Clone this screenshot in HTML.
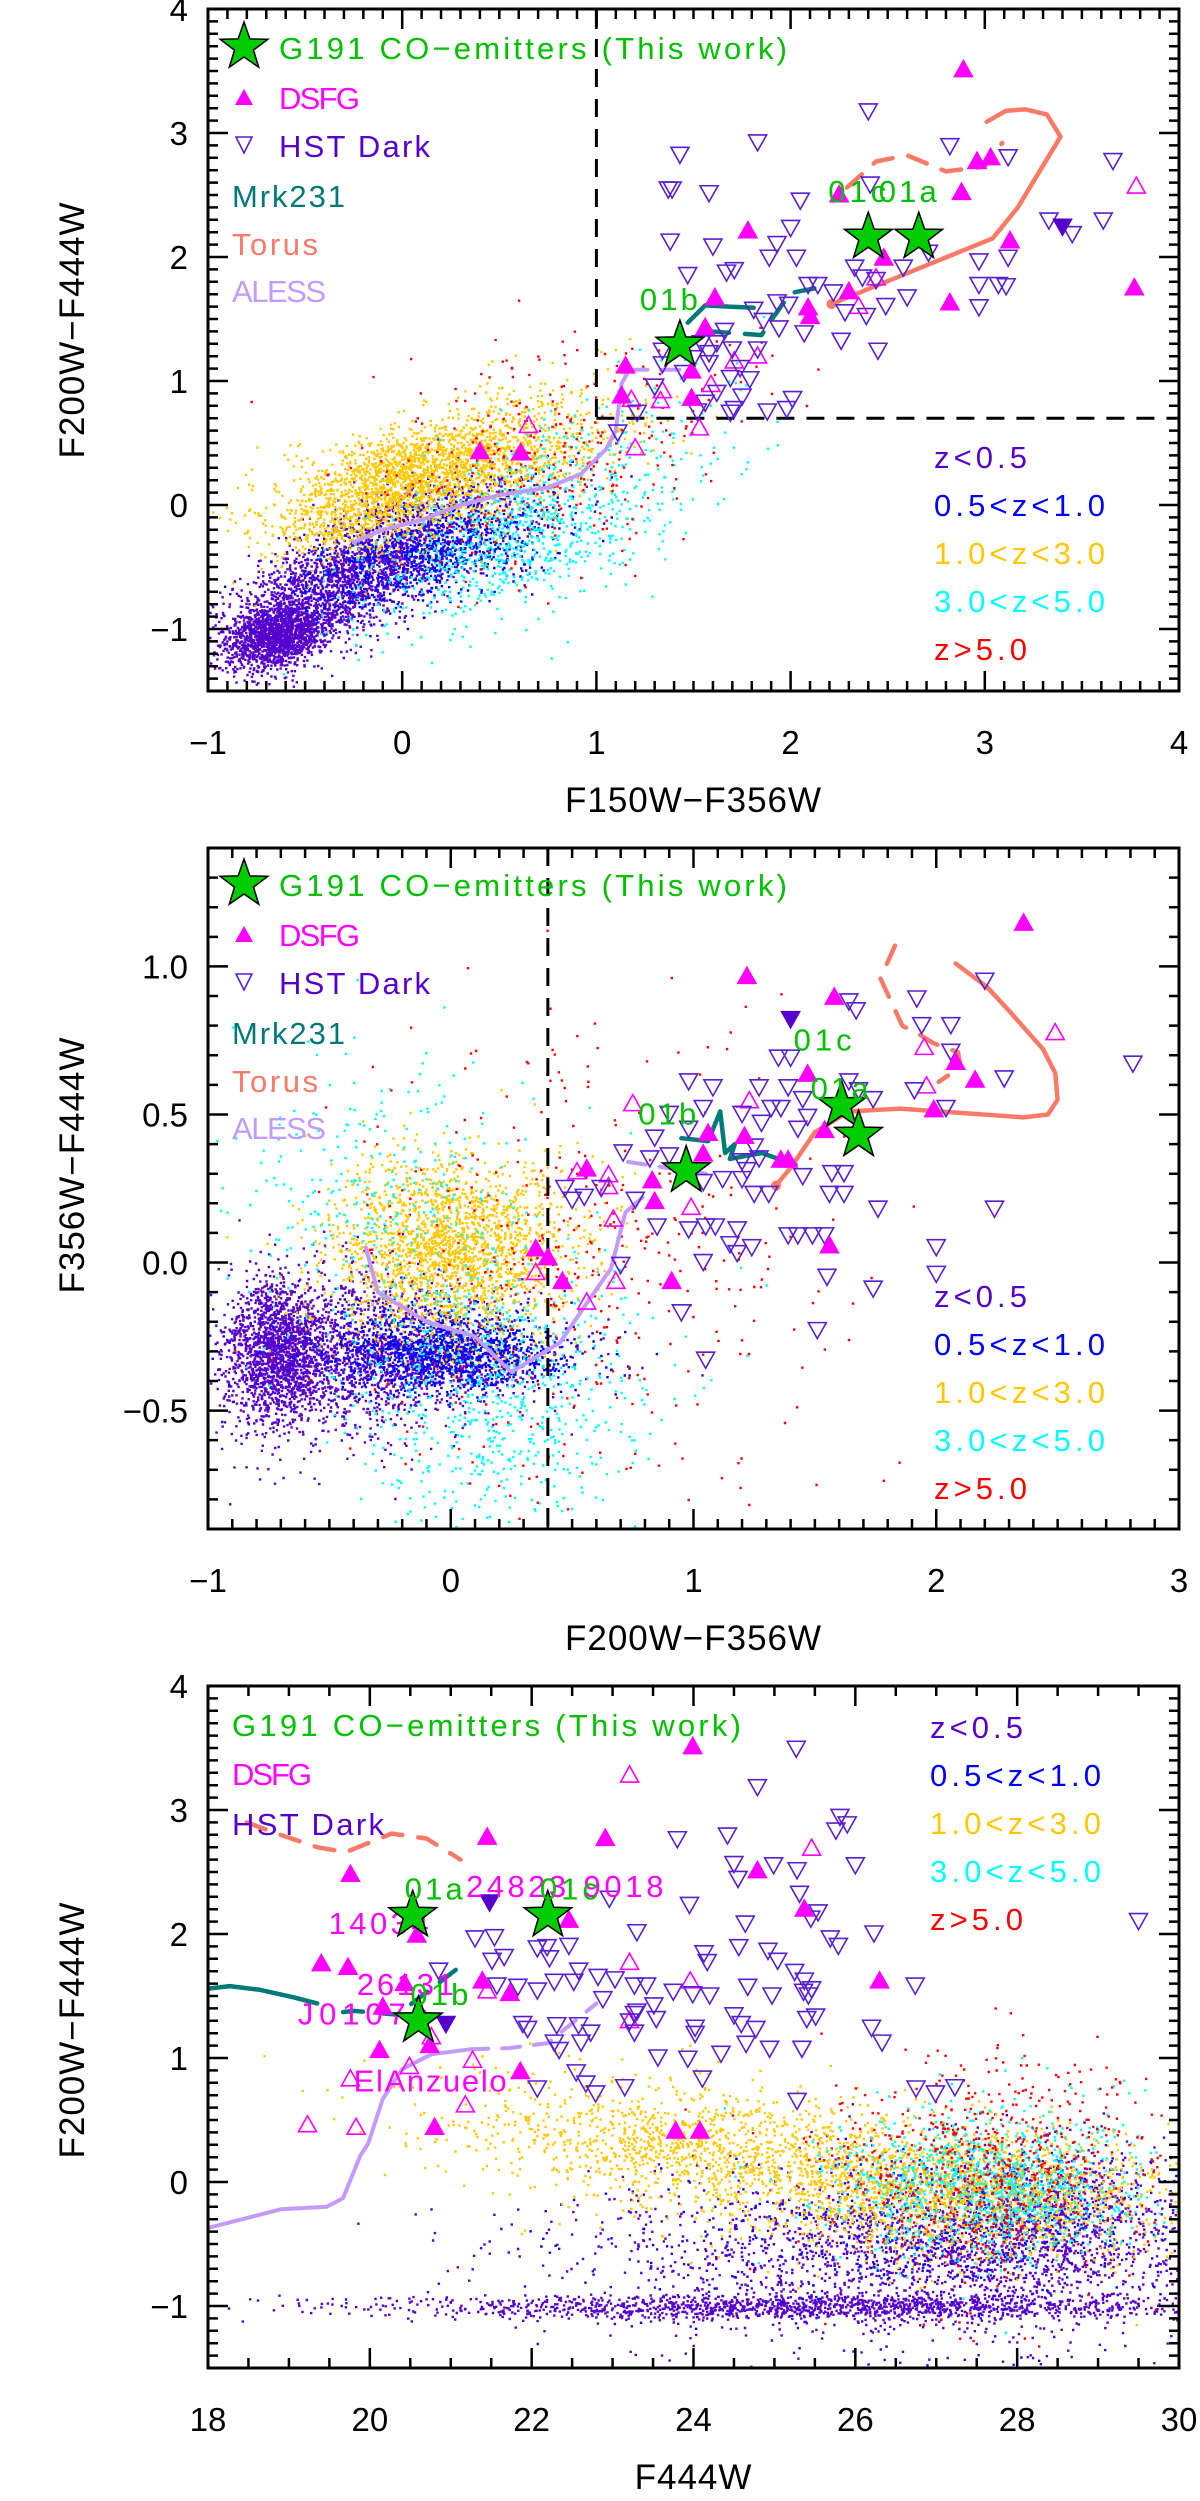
<!DOCTYPE html>
<html><head><meta charset="utf-8">
<style>
html,body{margin:0;padding:0;background:#fff;}
svg{display:block;font-family:"Liberation Sans","DejaVu Sans",sans-serif;}
</style></head>
<body>
<svg id="fig" width="1200" height="2501" viewBox="0 0 1200 2501" xmlns="http://www.w3.org/2000/svg"></svg>
<script>
// ===== Panel 1 data: F150W-F356W vs F200W-F444W =====
const p1StarsX=[2.40,2.66,1.43];
const p1StarsY=[2.16,2.16,1.29];
const p1StarLabels=["01c","01a","01b"];
const p1HstX=[2.40,1.83,1.43,1.37,1.39,1.58,2.05,2.41,2.82,3.12,3.66,3.33,3.45,3.61,1.38,1.60,2.00,1.93,1.89,2.03,1.47,1.67,1.71,2.97,3.12,2.97,3.07,3.11,2.97,2.60,2.49,2.33,2.37,2.44,2.58,2.71,2.26,2.45,2.39,2.28,2.09,2.14,2.22,2.07,1.94,1.86,1.81,1.93,1.99,1.70,1.62,1.58,1.54,1.34,1.69,1.79,1.75,1.69,1.71,1.88,1.98,2.01,1.52,1.56,1.21,1.11,1.45,1.34,1.58,1.83,1.30,1.66,1.74,1.50,1.62];
const p1HstY=[3.17,2.92,2.82,2.54,2.54,2.51,2.45,2.58,2.89,2.80,2.77,2.29,2.18,2.29,2.12,2.08,2.23,2.10,1.99,1.99,1.85,1.87,1.89,1.96,1.99,1.77,1.77,1.76,1.59,1.67,1.60,1.91,1.83,1.81,1.91,2.03,1.32,1.24,1.52,1.55,1.77,1.77,1.71,1.38,1.42,1.48,1.57,1.63,1.61,1.25,1.30,1.22,1.30,1.24,1.02,1.01,0.87,0.74,0.77,0.75,0.77,0.85,0.75,0.82,0.74,0.58,1.06,1.13,1.14,1.25,0.95,1.40,1.10,1.18,0.90];
const p1HstFillX=[3.40];
const p1HstFillY=[2.24];
const p1DsfgX=[2.89,2.96,3.03,2.88,3.13,3.77,2.82,2.48,2.30,2.09,2.10,1.78,1.61,1.56,1.49,1.49,1.15,1.13,2.25,0.40,0.61];
const p1DsfgY=[3.52,2.78,2.81,2.53,2.14,1.76,1.64,2.00,1.73,1.60,1.53,2.22,1.68,1.44,1.09,0.87,1.13,0.89,2.51,0.44,0.43];
const p1DsfgOpenX=[3.78,2.44,2.35,1.71,1.83,1.59,1.34,1.33,1.18,1.53,1.20,0.65];
const p1DsfgOpenY=[2.58,1.84,1.61,1.17,1.21,0.98,0.93,0.85,0.86,0.63,0.47,0.65];
const p1TorusX=[2.21,3.04,3.17,3.39,3.32,3.21,3.11,3.01];
const p1TorusY=[1.62,2.15,2.40,2.97,3.15,3.19,3.18,3.09];
const p1TorusDashX=[2.29,2.44,2.60,2.80,3.00,3.09];
const p1TorusDashY=[2.56,2.77,2.82,2.69,2.73,2.92];
const p1MrkX=[1.47,1.56,1.68,1.81];
const p1MrkY=[1.47,1.61,1.60,1.59];
const p1MrkDashX=[1.58,1.85,1.90,2.00,2.20];
const p1MrkDashY=[1.40,1.37,1.49,1.71,1.77];
const p1AlessX=[-0.25,-0.1,0.1,0.3,0.5,0.75,0.92,1.05,1.10,1.13,1.17];
const p1AlessY=[-0.30,-0.20,-0.12,0.00,0.08,0.14,0.25,0.45,0.60,0.98,1.09];
const p1AlessDashX=[1.17,1.45];
const p1AlessDashY=[1.09,1.09];

// ===== Panel 2 data: F200W-F356W vs F356W-F444W =====
const p2StarsX=[1.61,1.68,0.97];
const p2StarsY=[0.53,0.43,0.31];
const p2StarLabels=["01c","01a","01b"];
const p2HstX=[2.20,1.92,1.67,1.64,1.94,2.06,2.06,2.28,1.91,2.04,2.81,1.35,1.40,1.39,1.27,1.08,0.98,0.90,1.64,1.68,1.74,1.45,1.47,1.43,1.32,1.36,1.28,1.20,1.04,0.98,0.84,0.71,0.82,0.90,1.25,1.27,1.20,1.22,1.12,1.20,1.04,1.25,1.31,1.45,1.57,1.62,1.56,1.62,1.76,2.24,0.85,0.98,1.05,1.09,1.18,1.39,1.43,1.49,1.54,1.15,1.18,1.24,1.04,2.00,1.55,1.74,2.00,0.95,1.51,1.05,0.70,0.47,0.55,0.50,0.62,0.76];
const p2HstY=[0.95,0.89,0.85,0.88,0.80,0.80,0.71,0.62,0.58,0.52,0.67,0.69,0.69,0.59,0.59,0.59,0.61,0.50,0.61,0.58,0.55,0.55,0.49,0.45,0.52,0.52,0.47,0.50,0.52,0.45,0.42,0.37,0.35,0.36,0.39,0.35,0.34,0.31,0.28,0.28,0.27,0.23,0.23,0.29,0.30,0.30,0.23,0.23,0.18,0.18,0.12,0.11,0.12,0.12,0.11,0.09,0.09,0.09,0.09,0.06,0.03,0.05,0.00,0.05,-0.05,-0.09,-0.04,-0.17,-0.23,-0.33,-0.01,0.25,0.22,0.21,0.25,0.21];
const p2HstFillX=[1.40];
const p2HstFillY=[0.82];
const p2DsfgX=[2.36,1.22,1.58,1.47,2.08,2.16,1.99,1.54,1.21,1.06,1.04,1.36,1.39,0.83,0.84,0.56,1.56,0.91,0.46,0.35,0.40];
const p2DsfgY=[1.15,0.97,0.90,0.64,0.68,0.62,0.52,0.45,0.43,0.44,0.37,0.35,0.35,0.28,0.21,0.32,0.06,-0.06,-0.06,0.05,0.02];
const p2DsfgOpenX=[2.49,1.95,1.96,1.23,0.75,0.65,0.52,0.65,0.99,0.67,0.68,0.56,0.35];
const p2DsfgOpenY=[0.78,0.73,0.60,0.55,0.54,0.30,0.31,0.26,0.19,0.15,-0.06,-0.13,-0.03];
const p2TorusX=[1.34,1.40,1.50,1.64,1.85,2.36,2.46,2.50,2.49,2.44,2.30,2.21,2.08];
const p2TorusY=[0.26,0.32,0.44,0.51,0.52,0.49,0.50,0.55,0.64,0.72,0.85,0.93,1.01];
const p2TorusDashX=[1.83,1.77,1.86,1.93,1.99,2.09,2.10,2.01];
const p2TorusDashY=[1.07,0.96,0.80,0.77,0.74,0.71,0.66,0.61];
const p2MrkX=[0.95,1.06,1.11,1.13,1.17,1.15,1.28,1.42];
const p2MrkY=[0.42,0.41,0.51,0.37,0.40,0.35,0.37,0.33];
const p2AlessX=[-0.35,-0.30,-0.10,0.10,0.25,0.35,0.45,0.55,0.66,0.72,0.79];
const p2AlessY=[0.05,-0.10,-0.20,-0.25,-0.37,-0.32,-0.27,-0.15,-0.02,0.17,0.22];
const p2AlessDashX=[0.73,1.05];
const p2AlessDashY=[0.34,0.30];

// ===== Panel 3 data: F444W vs F200W-F444W =====
const p3StarsX=[20.53,22.20,20.60];
const p3StarsY=[2.15,2.15,1.30];
const p3StarLabels=["01a","01c","01b"];
const p3HstX=[25.27,24.79,25.81,25.90,25.76,23.80,24.42,24.50,24.55,24.99,25.28,26.00,25.31,25.54,25.45,26.23,24.64,23.95,22.96,23.30,22.46,22.19,22.07,22.22,21.30,21.54,21.66,21.51,20.85,24.56,24.92,25.04,24.13,24.17,25.69,25.79,25.25,25.37,26.74,24.67,24.97,25.36,25.42,25.46,24.20,23.75,23.99,23.42,23.27,23.03,22.82,22.58,22.52,22.28,22.07,21.83,21.57,23.51,23.27,22.88,24.50,24.59,24.77,24.02,24.02,25.51,25.40,26.20,26.33,24.65,24.94,25.34,24.34,23.93,23.56,23.54,23.21,23.30,23.27,21.89,21.95,22.31,22.58,22.73,22.61,22.28,22.34,22.55,22.67,22.79,23.15,22.07,24.11,25.28,26.75,26.99,27.23,29.50];
const p3HstY=[3.49,3.18,2.94,2.88,2.83,2.76,2.79,2.56,2.44,2.55,2.51,2.55,2.32,2.17,2.12,2.00,2.08,2.23,2.28,2.01,1.90,1.89,1.88,1.80,1.96,1.97,1.81,1.78,1.70,1.89,1.86,1.78,1.84,1.77,1.96,1.90,1.69,1.62,1.58,1.57,1.50,1.53,1.50,1.55,1.50,1.53,1.51,1.58,1.58,1.63,1.65,1.70,1.61,1.61,1.54,1.57,1.58,1.42,1.35,1.47,1.34,1.27,1.23,1.24,1.19,1.33,1.31,1.24,1.12,1.11,1.07,1.07,1.03,0.99,1.00,1.31,1.29,1.37,1.20,1.27,1.23,1.26,1.26,1.20,1.12,1.12,1.06,0.88,0.79,0.71,0.76,0.75,0.83,0.65,0.75,0.71,0.76,2.10];
const p3HstFillX=[20.94,21.48];
const p3HstFillY=[1.27,2.25];
const p3DsfgX=[23.99,21.45,22.91,19.76,24.79,25.37,22.46,20.58,19.40,19.73,20.43,21.39,21.73,20.16,20.12,20.74,21.86,26.30,20.80,23.78,24.08];
const p3DsfgY=[3.52,2.79,2.78,2.49,2.52,2.21,2.12,2.00,1.77,1.74,1.61,1.63,1.53,1.42,1.07,1.11,0.90,1.63,0.45,0.42,0.42];
const p3DsfgOpenX=[23.21,25.46,23.96,23.21,23.21,21.45,21.27,20.76,20.49,19.76,21.18,19.23,19.83];
const p3DsfgOpenY=[3.29,2.70,1.63,1.78,1.31,1.55,0.99,1.18,0.94,0.84,0.63,0.47,0.45];
const p3TorusDashX=[18.48,18.85,19.35,19.70,20.27,20.70,21.12];
const p3TorusDashY=[2.90,2.81,2.70,2.66,2.81,2.77,2.60];
const p3MrkX=[18.00,18.27,18.64,19.05,19.35];
const p3MrkY=[1.56,1.58,1.55,1.49,1.44];
const p3MrkDashX=[19.67,19.80,20.34,20.60,21.10];
const p3MrkDashY=[1.37,1.38,1.35,1.48,1.73];
const p3AlessX=[18.00,18.90,19.47,19.67,19.88,19.98,20.16,20.40,20.76,21.24];
const p3AlessY=[-0.37,-0.22,-0.20,-0.13,0.21,0.31,0.67,0.91,1.03,1.07];
const p3AlessDashX=[21.24,21.72,22.20,22.80];
const p3AlessDashY=[1.07,1.08,1.12,1.44];
const p3NameLabels=["14034","24823","9018","26131","J0107a","ElAnzuelo"];
const p3NameX=[19.49,21.19,22.64,19.84,19.11,19.80];
const p3NameY=[2.00,2.30,2.30,1.51,1.27,0.73];

// Background galaxy population summarised as cloud components
const zBins=["z<0.5","0.5<z<1.0","1.0<z<3.0","3.0<z<5.0","z>5.0"];
const zColors=["#5500cc","#0000ff","#ffc800","#00ffff","#ff0000"];
const p1CloudBin=[0,0,0,1,2,2,3,3,4];
const p1CloudX=[-0.65,-0.35,0.05,0.15,0.0,0.6,0.55,1.0,0.8];
const p1CloudY=[-1.05,-0.65,-0.25,-0.35,0.2,0.4,-0.3,0.3,0.45];
const p1CloudSX=[0.14,0.28,0.33,0.33,0.33,0.33,0.38,0.38,0.5];
const p1CloudSY=[0.14,0.25,0.27,0.27,0.27,0.28,0.33,0.38,0.5];
const p1CloudN=[1500,1500,800,900,2000,600,700,200,300];
const p1CloudRho=[0.3,0.6,0.6,0.6,0.6,0.5,0.5,0.4,0.3];
const p2CloudBin=[0,0,0,1,2,3,3,4];
const p2CloudX=[-0.72,-0.4,-0.1,0.0,0.0,0.2,-0.3,0.5];
const p2CloudY=[-0.3,-0.3,-0.33,-0.3,0.05,-0.45,0.2,0.0];
const p2CloudSX=[0.1,0.3,0.3,0.25,0.25,0.3,0.3,0.5];
const p2CloudSY=[0.12,0.15,0.05,0.07,0.15,0.25,0.25,0.4];
const p2CloudN=[1500,1500,500,1200,2000,700,300,400];
const p2CloudRho=[0,0,0,0,0,0,0,0];
const p3CloudBin=[0,0,0,1,2,2,3,4];
const p3CloudX=[25.5,26.5,28.2,26.5,24.3,27.5,27.6,27.6];
const p3CloudY=[-1.0,-0.6,-0.3,-0.4,0.25,-0.1,0.0,0.15];
const p3CloudSX=[2.8,2.0,0.9,1.8,1.6,1.2,1.0,1.0];
const p3CloudSY=[0.05,0.35,0.3,0.35,0.28,0.25,0.3,0.45];
const p3CloudN=[1400,1700,1200,350,1500,1500,1000,600];
const p3CloudRho=[0,0,0,0,-0.4,0,0,0];

const NS="http://www.w3.org/2000/svg";
const svg=document.getElementById('fig');
function el(tag,attrs,parent){const e=document.createElementNS(NS,tag);for(const k in attrs)e.setAttribute(k,attrs[k]);(parent||svg).appendChild(e);return e;}
let seed=12345;
function rnd(){seed|=0;seed=seed+0x6D2B79F5|0;let t=Math.imul(seed^seed>>>15,1|seed);t=t+Math.imul(t^t>>>7,61|t)^t;return((t^t>>>14)>>>0)/4294967296;}
function gauss(){let u=rnd()||1e-9,v=rnd();return Math.sqrt(-2*Math.log(u))*Math.cos(2*Math.PI*v);}
function fmt(v,d){const s=Math.abs(v).toFixed(d);return (v<-1e-9?"\u2212":"")+s;}

function makePanel(cfg){
  const g=el('g',{});
  
  
  const sx=v=>cfg.L+(v-cfg.xmin)/(cfg.xmax-cfg.xmin)*(cfg.R-cfg.L);
  const sy=v=>cfg.B-(v-cfg.ymin)/(cfg.ymax-cfg.ymin)*(cfg.B-cfg.T);
  const clipId='clip'+cfg.id;
  const cp=el('clipPath',{id:clipId},g);
  el('rect',{x:cfg.L,y:cfg.T,width:cfg.R-cfg.L,height:cfg.B-cfg.T},cp);
  const plot=el('g',{'clip-path':'url(#'+clipId+')'},g);
  
  
  const cg=el('g',{},plot);
  
  
  const c=cfg.cloud;
  for(let i=0;i<c.bin.length;i++){
    const col=zColors[c.bin[i]];
    let d='';
    for(let k=0;k<c.n[i];k++){
      const a=gauss(),b=gauss();
      const vx=c.x[i]+c.sx[i]*a;
      const vy=c.y[i]+c.sy[i]*(c.rho[i]*a+Math.sqrt(1-c.rho[i]*c.rho[i])*b);
      const px=sx(vx),py=sy(vy);
      if(px<cfg.L||px>cfg.R||py<cfg.T||py>cfg.B)continue;
      d+='M'+px.toFixed(1)+' '+py.toFixed(1)+'h2.4v2.4h-2.4z';
    }
    const p=el('path',{d:d,fill:col},cg);
    
    
  }
  (cfg.dashLines||[]).forEach(dl=>{
    const l=el('line',{x1:sx(dl[0]),y1:sy(dl[1]),x2:sx(dl[2]),y2:sy(dl[3]),stroke:'#000','stroke-width':3,'stroke-dasharray':'18 12'},plot);
    
    
  });
  function line(xs,ys,color,w,dash,name){
    if(!xs)return;
    let d='';xs.forEach((x,i)=>{d+=(i?'L':'M')+sx(x).toFixed(1)+' '+sy(ys[i]).toFixed(1);});
    const p=el('path',{d:d,fill:'none',stroke:color,'stroke-width':w,'stroke-linejoin':'round','stroke-linecap':'round'},plot);
    if(dash)p.setAttribute('stroke-dasharray',dash);
    
    
  }
  line(cfg.alessX,cfg.alessY,'#c39bff',4,null,'aless-track');
  line(cfg.alessDX,cfg.alessDY,'#c39bff',4,'18 14','aless-track-dashed');
  line(cfg.torusX,cfg.torusY,'#fa7a68',4.5,null,'torus-track');
  line(cfg.torusDX,cfg.torusDY,'#fa7a68',4.5,'20 16','torus-track-dashed');
  line(cfg.mrkX,cfg.mrkY,'#007a78',4.5,null,'mrk231-track');
  line(cfg.mrkDX,cfg.mrkDY,'#007a78',4.5,'20 16','mrk231-track-dashed');
  if(cfg.torusX&&cfg.id!==3){
    const dot=el('circle',{cx:sx(cfg.torusX[0]),cy:sy(cfg.torusY[0]),r:5,fill:'#fa7a68'},plot);
    
    
  }
  function tri(x,y,down,fill,stroke,name){
    const px=sx(x),py=sy(y),h=8;
    const pts=down?[[px-9,py-h],[px+9,py-h],[px,py+h]]:[[px-9,py+h],[px+9,py+h],[px,py-h]];
    const t=el('polygon',{points:pts.map(p=>p.join(',')).join(' '),fill:fill,stroke:stroke,'stroke-width':1.6},plot);
    
    
  }
  cfg.dsfgOX.forEach((x,i)=>tri(x,cfg.dsfgOY[i],false,'none','#ff00ff','dsfg-open-marker'));
  cfg.hstX.forEach((x,i)=>tri(x,cfg.hstY[i],true,'none','#5a1fd0','hst-dark-marker'));
  cfg.hstFX.forEach((x,i)=>tri(x,cfg.hstFY[i],true,'#5500cc','#5500cc','hst-dark-filled-marker'));
  cfg.dsfgX.forEach((x,i)=>tri(x,cfg.dsfgY[i],false,'#ff00ff','#ff00ff','dsfg-marker'));
  const nameW={"14034":100,"24823":100,"9018":80,"26131":97,"J0107a":131,"ElAnzuelo":153};
  (cfg.names||[]).forEach((n,i)=>{
    const t=el('text',{x:sx(cfg.nameX[i]),y:sy(cfg.nameY[i]),fill:'#ff00ff','font-size':31,textLength:nameW[n],lengthAdjust:'spacing'},plot);
    t.textContent=n;
    
    
  });
  cfg.starsX.forEach((x,i)=>{
    const px=sx(x),py=sy(cfg.starsY[i]);
    const s=el('polygon',{points:starPts(px,py,25,10),fill:'#00cc00',stroke:'#000','stroke-width':1.5},plot);
    
    
    const t=el('text',{x:px+cfg.labOff[i][0],y:py+cfg.labOff[i][1],fill:'#00c000','font-size':31,textLength:58,lengthAdjust:'spacing'},plot);
    t.textContent=cfg.starLabels[i];
    
    
  });
  const fr=el('rect',{x:cfg.L,y:cfg.T,width:cfg.R-cfg.L,height:cfg.B-cfg.T,fill:'none',stroke:'#000','stroke-width':3},g);
  
  
  let td='';
  const eps=1e-6;
  for(let v=Math.ceil(cfg.xmin/cfg.xMinor-eps)*cfg.xMinor;v<=cfg.xmax+eps;v+=cfg.xMinor){
    const isMaj=Math.abs(v/cfg.xMajor-Math.round(v/cfg.xMajor))<1e-6;const len=isMaj?20:10;const px=sx(v);
    td+='M'+px+' '+cfg.B+'v'+(-len)+'M'+px+' '+cfg.T+'v'+len;
  }
  for(let v=Math.ceil(cfg.ymin/cfg.yMinor-eps)*cfg.yMinor;v<=cfg.ymax+eps;v+=cfg.yMinor){
    const isMaj=Math.abs(v/cfg.yMajor-Math.round(v/cfg.yMajor))<1e-6;const len=isMaj?20:10;const py=sy(v);
    td+='M'+cfg.L+' '+py+'h'+len+'M'+cfg.R+' '+py+'h'+(-len);
  }
  const tk=el('path',{d:td,stroke:'#000','stroke-width':2.5,fill:'none'},g);
  
  
  cfg.xTicks.forEach(v=>{
    const t=el('text',{x:sx(v),y:cfg.B+63,'text-anchor':'middle','font-size':33},g);
    t.textContent=fmt(v,cfg.xDec);
    
    
  });
  cfg.yTicks.forEach(v=>{
    const t=el('text',{x:cfg.L-20,y:sy(v)+12,'text-anchor':'end','font-size':33},g);
    t.textContent=fmt(v,cfg.yDec);
    
    
  });
  const xt=el('text',{x:(cfg.L+cfg.R)/2,y:cfg.B+121,'text-anchor':'middle','font-size':35,'letter-spacing':1},g);
  xt.textContent=cfg.xTitle;
  
  
  const yt=el('text',{x:0,y:0,'text-anchor':'middle','font-size':35,'letter-spacing':1,transform:'translate(84,'+cfg.yTitleY+') rotate(-90)'},g);
  yt.textContent=cfg.yTitle;
  
  
  const lg=el('g',{},g);
  
  
  cfg.legend.forEach(it=>{
    if(it.mark==='star'){const s=el('polygon',{points:starPts(244,it.y,25,10),fill:'#00cc00',stroke:'#000','stroke-width':1.5},lg);}
    if(it.mark==='up'){const s=el('polygon',{points:[[235,it.y+8],[253,it.y+8],[244,it.y-8]].map(p=>p.join(',')).join(' '),fill:'#ff00ff'},lg);}
    if(it.mark==='down'){const s=el('polygon',{points:[[236,it.y-8],[252,it.y-8],[244,it.y+8]].map(p=>p.join(',')).join(' '),fill:'none',stroke:'#5a1fd0','stroke-width':1.6},lg);}
    const t=el('text',{x:it.x,y:it.y+12,fill:it.c,'font-size':31,textLength:it.w,lengthAdjust:'spacing'},lg);
    t.textContent=it.t;
    
    
  });
  zBins.forEach((z,i)=>{
    const t=el('text',{x:cfg.zX,y:cfg.zY0+i*48+12,fill:zColors[i],'font-size':31,textLength:(i===0||i===4)?93:171,lengthAdjust:'spacing'},lg);
    t.textContent=z;
    
    
  });
}
function starPts(cx,cy,R,r){const p=[];for(let i=0;i<10;i++){const a=-Math.PI/2+i*Math.PI/5;const rr=i%2?r:R;p.push((cx+rr*Math.cos(a)).toFixed(1)+','+(cy+rr*Math.sin(a)).toFixed(1));}return p.join(' ');}

function fullLegend(dy){return [
  {mark:'star',y:47+dy,x:279,t:'G191 CO\u2212emitters (This work)',c:'#00c000',w:508},
  {mark:'up',y:97+dy,x:279,t:'DSFG',c:'#ff00ff',w:81},
  {mark:'down',y:145+dy,x:279,t:'HST Dark',c:'#5500cc',w:151},
  {y:195+dy,x:232,t:'Mrk231',c:'#007878',w:113},
  {y:243+dy,x:232,t:'Torus',c:'#fa7a68',w:86},
  {y:290+dy,x:232,t:'ALESS',c:'#c39bff',w:94}];}

makePanel({id:1,name:'panel-f150w-f356w',L:208,R:1179,T:9,B:691,xmin:-1,xmax:4,ymin:-1.5,ymax:4,
  xMajor:1,xMinor:0.1,yMajor:1,yMinor:0.1,xTicks:[-1,0,1,2,3,4],yTicks:[-1,0,1,2,3,4],xDec:0,yDec:0,
  xTitle:'F150W\u2212F356W',yTitle:'F200W\u2212F444W',yTitleY:330,
  cloud:{bin:p1CloudBin,x:p1CloudX,y:p1CloudY,sx:p1CloudSX,sy:p1CloudSY,n:p1CloudN,rho:p1CloudRho},
  dashLines:[[1,4,1,0.7],[1,0.7,4,0.7]],
  starsX:p1StarsX,starsY:p1StarsY,starLabels:p1StarLabels,labOff:[[-40,-35],[-40,-35],[-40,-35]],
  hstX:p1HstX,hstY:p1HstY,hstFX:p1HstFillX,hstFY:p1HstFillY,dsfgX:p1DsfgX,dsfgY:p1DsfgY,dsfgOX:p1DsfgOpenX,dsfgOY:p1DsfgOpenY,
  torusX:p1TorusX,torusY:p1TorusY,torusDX:p1TorusDashX,torusDY:p1TorusDashY,mrkX:p1MrkX,mrkY:p1MrkY,mrkDX:p1MrkDashX,mrkDY:p1MrkDashY,
  alessX:p1AlessX,alessY:p1AlessY,alessDX:p1AlessDashX,alessDY:p1AlessDashY,
  legend:fullLegend(0),zX:934,zY0:456});
makePanel({id:2,name:'panel-f200w-f356w',L:208,R:1179,T:848,B:1529,xmin:-1,xmax:3,ymin:-0.9,ymax:1.4,
  xMajor:1,xMinor:0.1,yMajor:0.5,yMinor:0.1,xTicks:[-1,0,1,2,3],yTicks:[-0.5,0,0.5,1.0],xDec:0,yDec:1,
  xTitle:'F200W\u2212F356W',yTitle:'F356W\u2212F444W',yTitleY:1165,
  cloud:{bin:p2CloudBin,x:p2CloudX,y:p2CloudY,sx:p2CloudSX,sy:p2CloudSY,n:p2CloudN,rho:p2CloudRho},
  dashLines:[[0.4,1.4,0.4,-0.9]],
  starsX:p2StarsX,starsY:p2StarsY,starLabels:p2StarLabels,labOff:[[-48,-55],[-48,-36],[-48,-46]],
  hstX:p2HstX,hstY:p2HstY,hstFX:p2HstFillX,hstFY:p2HstFillY,dsfgX:p2DsfgX,dsfgY:p2DsfgY,dsfgOX:p2DsfgOpenX,dsfgOY:p2DsfgOpenY,
  torusX:p2TorusX,torusY:p2TorusY,torusDX:p2TorusDashX,torusDY:p2TorusDashY,mrkX:p2MrkX,mrkY:p2MrkY,
  alessX:p2AlessX,alessY:p2AlessY,alessDX:p2AlessDashX,alessDY:p2AlessDashY,
  legend:fullLegend(837),zX:934,zY0:1295});
makePanel({id:3,name:'panel-f444w',L:208,R:1179,T:1686,B:2368,xmin:18,xmax:30,ymin:-1.5,ymax:4,
  xMajor:2,xMinor:0.5,yMajor:1,yMinor:0.1,xTicks:[18,20,22,24,26,28,30],yTicks:[-1,0,1,2,3,4],xDec:0,yDec:0,
  xTitle:'F444W',yTitle:'F200W\u2212F444W',yTitleY:2030,
  cloud:{bin:p3CloudBin,x:p3CloudX,y:p3CloudY,sx:p3CloudSX,sy:p3CloudSY,n:p3CloudN,rho:p3CloudRho},
  starsX:p3StarsX,starsY:p3StarsY,starLabels:p3StarLabels,labOff:[[-8,-16],[-8,-16],[-8,-16]],
  hstX:p3HstX,hstY:p3HstY,hstFX:p3HstFillX,hstFY:p3HstFillY,dsfgX:p3DsfgX,dsfgY:p3DsfgY,dsfgOX:p3DsfgOpenX,dsfgOY:p3DsfgOpenY,
  torusDX:p3TorusDashX,torusDY:p3TorusDashY,mrkX:p3MrkX,mrkY:p3MrkY,mrkDX:p3MrkDashX,mrkDY:p3MrkDashY,
  alessX:p3AlessX,alessY:p3AlessY,alessDX:p3AlessDashX,alessDY:p3AlessDashY,
  names:p3NameLabels,nameX:p3NameX,nameY:p3NameY,
  legend:[{y:1724,x:232,t:'G191 CO\u2212emitters (This work)',c:'#00c000',w:509},
          {y:1773,x:232,t:'DSFG',c:'#ff00ff',w:80},
          {y:1823,x:232,t:'HST Dark',c:'#5500cc',w:152}],
  zX:930,zY0:1726});
</script>
</body></html>
